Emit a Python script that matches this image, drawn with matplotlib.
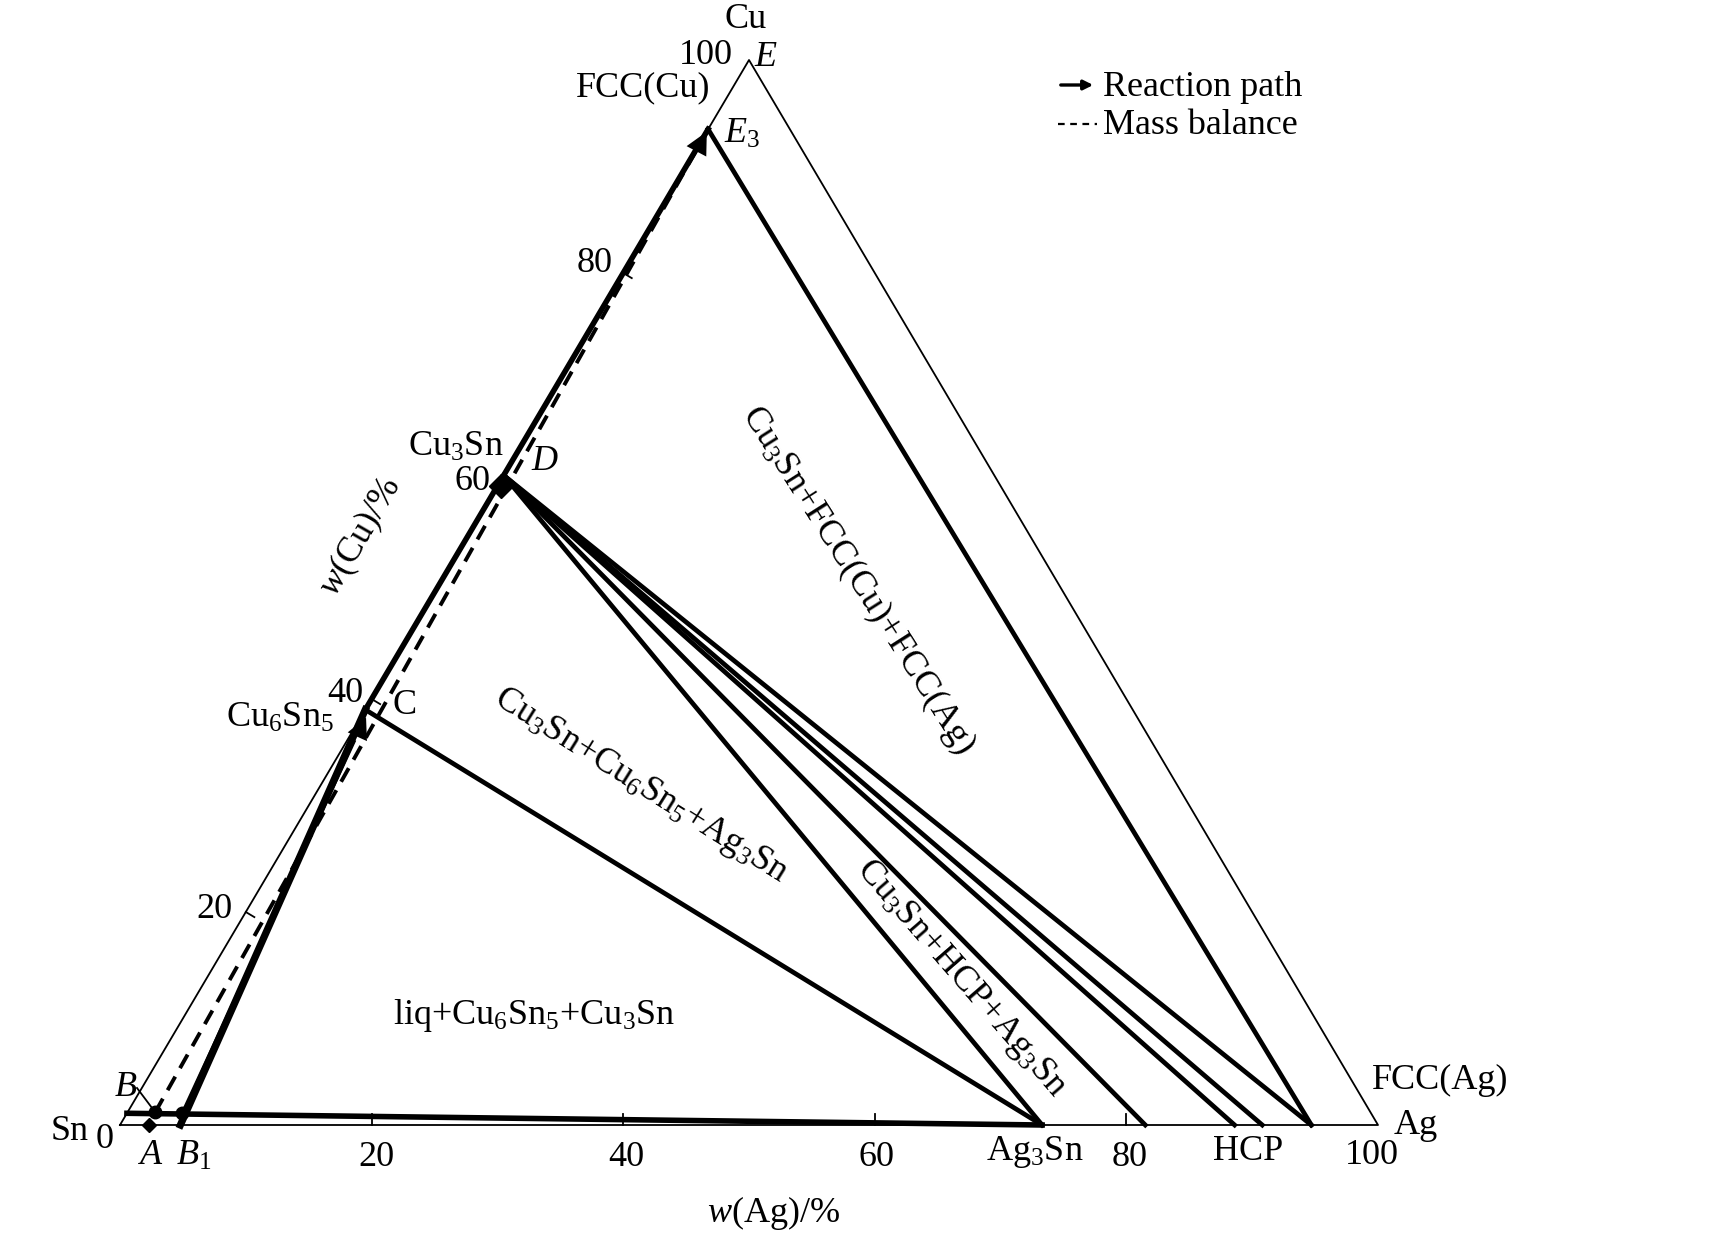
import matplotlib.pyplot as plt

plt.rcParams['font.family'] = ['Liberation Serif', 'DejaVu Serif']
plt.rcParams['mathtext.fontset'] = 'custom'
plt.rcParams['mathtext.rm'] = 'Liberation Serif'
plt.rcParams['mathtext.it'] = 'Liberation Serif:italic'

# compositions, w(Ag) %, w(Cu) %
ag3sn_ag = 73.3
cu6sn5_cu = 39.0
cu3sn_cu = 61.0
e3_cu = 93.5
d_tie_ends = [73.3, 81.5, 88.6, 90.8, 94.7]   # tie lines from D to the Ag side
e3_tie_end = 94.7
liq_line = [(0.0, 1.1), (73.3, 0.0)]
pt_a = (2.3, 0.0)
pt_b = (2.2, 1.2)
pt_b1 = (4.4, 1.1)
b1_base = (4.8, 0.0)
tick_vals = [20, 40, 60, 80]


def tern(ag, cu):
    return ag + cu / 2.0, cu


def P(xp, yp):
    # pixel position of the original drawing -> data coords
    return (xp - 120) / 12.58, (1125 - yp) / 10.65


fig = plt.figure(figsize=(17.17, 12.43), dpi=100)
ax = fig.add_axes([0, 0, 1, 1])
ax.set_xlim(-120 / 12.58, (1717 - 120) / 12.58)
ax.set_ylim((1125 - 1243) / 10.65, 1125 / 10.65)
ax.axis('off')

fs = 26
thick = 4.0
thin = 1.3

# triangle outline
corners = [tern(0, 0), tern(100, 0), tern(0, 100), tern(0, 0)]
ax.plot([c[0] for c in corners], [c[1] for c in corners], c='k', lw=thin)

# ticks
for t in tick_vals:
    x, y = tern(t, 0)
    ax.plot([x, x], [y, y + 1.0], c='k', lw=thin)
    x, y = tern(0, t)
    ax.plot([x, x + 0.68], [y, y - 0.48], c='k', lw=thin)

# liquid / Ag3Sn line
ax.plot([tern(*p)[0] for p in liq_line], [tern(*p)[1] for p in liq_line], c='k', lw=thick)

C = tern(0, cu6sn5_cu)
D = tern(0, cu3sn_cu)
E3 = tern(0, e3_cu)

# tie lines
ax.plot([C[0], tern(ag3sn_ag, 0)[0]], [C[1], 0], c='k', lw=thick * 0.85)
for end in d_tie_ends:
    ax.plot([D[0], tern(end, 0)[0]], [D[1], 0], c='k', lw=thick * 0.85)
ax.plot([E3[0], tern(e3_tie_end, 0)[0]], [E3[1], 0], c='k', lw=thick * 0.85)

# reaction path
bb = tern(*b1_base)
b1 = tern(*pt_b1)
ax.plot([bb[0], C[0]], [bb[1], C[1]], c='k', lw=thick * 1.3)
ax.plot([b1[0], tern(0.6, 36)[0]], [b1[1], 36], c='k', lw=2.4)
ax.plot([C[0], E3[0]], [C[1], E3[1]], c='k', lw=thick)
ax.annotate('', xy=tern(0.4, 38.5), xytext=tern(1.5, 29),
            arrowprops=dict(arrowstyle='-|>', lw=0, color='k', mutation_scale=38))
ax.annotate('', xy=tern(0.0, e3_cu), xytext=tern(0.5, 84),
            arrowprops=dict(arrowstyle='-|>', lw=0, color='k', mutation_scale=40))
ax.plot(*tern(0.3, 60.0), marker='D', ms=12, c='k')

# mass balance
b = tern(*pt_b)
ax.plot([b[0], E3[0]], [b[1], E3[1]], c='k', lw=2.8, ls=(0, (4, 2.5)))

# points A, B, B1
ax.plot(*tern(*pt_a), marker='D', ms=7, c='k')
ax.plot(*b, marker='o', ms=9, c='k')
ax.plot(*b1, marker='o', ms=9, c='k')
ax.plot([P(137, 1088)[0], b[0]], [P(137, 1088)[1], b[1]], c='k', lw=thin)

# labels
def lab(xp, yp, s, **kw):
    ax.text(*P(xp, yp), s, ha='center', va='center', fontsize=kw.pop('fontsize', fs), **kw)

lab(746, 20, 'Cu')
lab(706, 55, '100')
lab(766, 58, '$\\mathit{E}$')
lab(643, 88, 'FCC(Cu)')
lab(742, 134, '$\\mathit{E}_3$')
lab(595, 263, '80')
lab(456, 447, 'Cu$_3$Sn')
lab(472, 482, '60')
lab(545, 462, '$\\mathit{D}$')
lab(345, 694, '40')
lab(280, 718, 'Cu$_6$Sn$_5$')
lab(405, 706, 'C')
lab(214, 909, '20')
lab(126, 1087, '$\\mathit{B}$')
lab(70, 1132, 'Sn')
lab(105, 1140, '0')
lab(151, 1156, '$\\mathit{A}$')
lab(194, 1156, '$\\mathit{B}_1$')
lab(376, 1157, '20')
lab(626, 1157, '40')
lab(876, 1157, '60')
lab(1035, 1152, 'Ag$_3$Sn')
lab(1130, 1157, '80')
lab(1248, 1151, 'HCP')
lab(1372, 1156, '100')
lab(1416, 1125, 'Ag')
lab(1440, 1080, 'FCC(Ag)')

lab(361, 537, '$\\mathit{w}$(Cu)/%', rotation=60)
lab(774, 1213, '$\\mathit{w}$(Ag)/%')

lab(858, 580, 'Cu$_3$Sn+FCC(Cu)+FCC(Ag)', rotation=-57.5)
lab(641, 786, 'Cu$_3$Sn+Cu$_6$Sn$_5$+Ag$_3$Sn', rotation=-32)
lab(961, 978, 'Cu$_3$Sn+HCP+Ag$_3$Sn', rotation=-49)
lab(534, 1016, 'liq+Cu$_6$Sn$_5$+Cu$_3$Sn')

# legend
ax.annotate('', xy=P(1096, 85), xytext=P(1058, 85),
            arrowprops=dict(arrowstyle='-|>', lw=2.4, color='k', mutation_scale=14))
ax.plot([P(1058, 124)[0], P(1097, 124)[0]], [P(1058, 124)[1]] * 2, c='k', lw=1.6, ls=(0, (3, 2.5)))
ax.text(*P(1103, 87), 'Reaction path', ha='left', va='center', fontsize=fs)
ax.text(*P(1103, 125), 'Mass balance', ha='left', va='center', fontsize=fs)

fig.savefig('out.png', dpi=100)
